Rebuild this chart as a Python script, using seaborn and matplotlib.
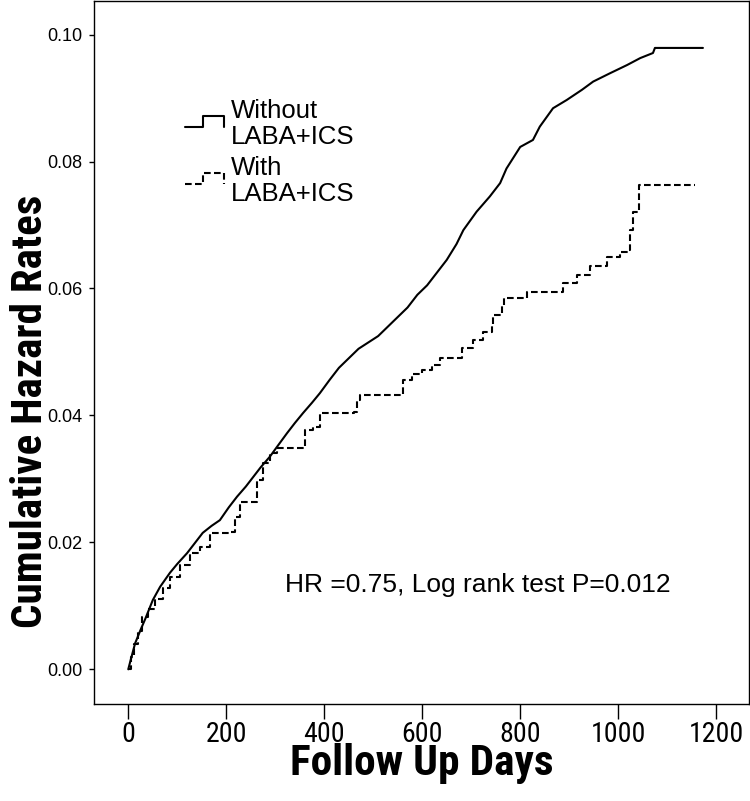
import os
import numpy as np
import pandas as pd
import matplotlib
matplotlib.use("Agg")
import matplotlib.pyplot as plt
import seaborn as sns
from matplotlib import font_manager
from matplotlib.font_manager import FontProperties
from matplotlib.lines import Line2D
from matplotlib.legend_handler import HandlerBase

# ---------------- data ----------------
days_without = [0, 5, 14, 25, 35, 50, 65, 85, 100, 120, 135, 152, 170, 187, 205, 222,
                240, 255, 270, 289, 305, 324, 340, 357, 375, 391, 411, 430, 450, 470,
                490, 510, 530, 550, 570, 590, 610, 630, 650, 670, 684, 711, 738, 759,
                772, 800, 826, 840, 867, 895, 926, 949, 983, 1018, 1045, 1071, 1075, 1173]
rate_without = [0.0, 0.0015, 0.0041, 0.0062, 0.0080, 0.0109, 0.0130, 0.0152, 0.0166, 0.0183,
                0.0198, 0.0215, 0.0226, 0.0235, 0.0255, 0.0272, 0.0288, 0.0303, 0.0318, 0.0335,
                0.0352, 0.0372, 0.0388, 0.0404, 0.0420, 0.0435, 0.0456, 0.0475, 0.0490, 0.0505,
                0.0515, 0.0525, 0.0540, 0.0555, 0.0570, 0.0590, 0.0605, 0.0625, 0.0645, 0.0670,
                0.0692, 0.0721, 0.0745, 0.0766, 0.0789, 0.0823, 0.0834, 0.0855, 0.0884, 0.0897,
                0.0913, 0.0926, 0.0939, 0.0952, 0.0963, 0.0971, 0.0979, 0.0979]

days_with = [0, 5, 12, 20, 27, 40, 55, 70, 85, 105, 126, 146, 167, 208, 218, 228, 255, 262,
             275, 289, 303, 357, 361, 377, 391, 460, 466, 473, 561, 580, 600, 620, 636, 681,
             704, 725, 742, 745, 762, 766, 810, 813, 885, 888, 912, 915, 939, 943, 973, 977,
             1004, 1020, 1024, 1030, 1039, 1043, 1157]
rate_with = [0.0, 0.0020, 0.0040, 0.0060, 0.0083, 0.0095, 0.0110, 0.0128, 0.0146, 0.0165,
             0.0183, 0.0193, 0.0214, 0.0217, 0.0240, 0.0264, 0.0264, 0.0298, 0.0325, 0.0341,
             0.0348, 0.0348, 0.0377, 0.0382, 0.0404, 0.0406, 0.0424, 0.0432, 0.0456, 0.0465,
             0.0472, 0.0480, 0.0490, 0.0506, 0.0519, 0.0532, 0.0543, 0.0558, 0.0574, 0.0585,
             0.0585, 0.0595, 0.0595, 0.0608, 0.0608, 0.0621, 0.0621, 0.0636, 0.0636, 0.0650,
             0.0658, 0.0660, 0.0692, 0.0721, 0.0721, 0.0763, 0.0763]

groups = ["Without\nLABA+ICS", "With\nLABA+ICS"]
x_ticks = [0, 200, 400, 600, 800, 1000, 1200]
y_ticks = [0.00, 0.02, 0.04, 0.06, 0.08, 0.10]
x_label = "Follow Up Days"
y_label = "Cumulative Hazard Rates"
note = "HR =0.75, Log rank test P=0.012"

# ---------------- fonts ----------------
def has_font(name):
    try:
        font_manager.findfont(FontProperties(family=name), fallback_to_default=False)
        return True
    except Exception:
        return False

REG = "Liberation Sans" if has_font("Liberation Sans") else "DejaVu Sans"

PREFS = ["Liberation Sans Narrow", "Arial Narrow", "Roboto Condensed", "Roboto",
         "Open Sans Condensed", "Open Sans", "Noto Sans", "DejaVu Sans"]


def is_condensed(f):
    base = os.path.basename(f.fname).lower()
    return ("narrow" in f.name.lower() or "condensed" in f.name.lower()
            or "condensed" in base or "narrow" in base
            or str(f.stretch) in ("condensed", "semi-condensed", "extra-condensed",
                                  "ultra-condensed"))


def wnum(w):
    if isinstance(w, (int, float)):
        return w
    return font_manager.weight_dict.get(str(w), 400)


def pick_condensed(bold):
    cands = [f for f in font_manager.fontManager.ttflist
             if is_condensed(f) and f.style == "normal"]
    best, best_score = None, None
    for f in cands:
        pr = len(PREFS)
        for i, p in enumerate(PREFS):
            if f.name.startswith(p):
                pr = i
                break
        wscore = abs(wnum(f.weight) - (700 if bold else 400))
        base = os.path.basename(f.fname).lower()
        semi = 1 if "semi" in base or "semi" in str(f.stretch) else 0
        score = (pr, wscore, semi)
        if best_score is None or score < best_score:
            best, best_score = f, score
    return best


cb = pick_condensed(True)
cr = pick_condensed(False)
LABEL_FP = FontProperties(fname=cb.fname) if cb else FontProperties(family=REG, weight="bold")
TICK_FP = FontProperties(fname=cr.fname) if cr else FontProperties(family=REG)

sns.set_style("white")
plt.rcParams["font.family"] = [REG, "DejaVu Sans"]
for k in ["text.color", "axes.labelcolor", "xtick.color", "ytick.color", "axes.edgecolor"]:
    plt.rcParams[k] = "black"

fig = plt.figure(figsize=(7.5, 8.01), dpi=100)
ax = fig.add_axes([0.1257, 0.1217, 0.998 - 0.1257, 0.9988 - 0.1217])

LW = 1.5
DASH = (3.2, 1.6)
df_without = pd.DataFrame({"day": days_without, "rate": rate_without})
df_with = pd.DataFrame({"day": days_with, "rate": rate_with})
sns.lineplot(data=df_without, x="day", y="rate", color="black", lw=LW,
             estimator=None, ax=ax)
sns.lineplot(data=df_with, x="day", y="rate", color="black", lw=LW, dashes=False,
             linestyle=(0, DASH), drawstyle="steps-post", estimator=None, ax=ax)

ax.set_xlim(-69.4, 1266)
ax.set_ylim(-0.00539, 0.1053)
ax.set_xticks(x_ticks)
ax.set_yticks(y_ticks)
ax.set_yticklabels([f"{v:.2f}" for v in y_ticks])

for s in ax.spines.values():
    s.set_visible(True)
    s.set_color("black")
    s.set_linewidth(1.0)

ax.tick_params(axis="x", direction="out", length=10.8, width=1.0, pad=2,
               colors="black", bottom=True)
ax.tick_params(axis="y", direction="out", length=3.6, width=1.0, pad=5,
               colors="black", left=True)
for t in ax.get_xticklabels():
    t.set_fontproperties(TICK_FP)
    t.set_fontsize(20)
for t in ax.get_yticklabels():
    t.set_fontfamily(REG)
    t.set_fontsize(13)

ax.set_xlabel(x_label, fontproperties=LABEL_FP, fontsize=31)
ax.set_ylabel(y_label, fontproperties=LABEL_FP, fontsize=31)
ax.xaxis.label.set_va("baseline")
ax.yaxis.label.set_va("baseline")
ax.xaxis.set_label_coords(0.5, -0.1018)
ax.yaxis.set_label_coords(-0.0800, 0.4157)

ax.text(0.2915, 0.1583, note, transform=ax.transAxes, fontsize=19,
        family=REG, va="baseline", ha="left")


class StepHandler(HandlerBase):
    def create_artists(self, legend, orig_handle, xdescent, ydescent, width,
                       height, fontsize, trans):
        x0, y0 = -xdescent, -ydescent
        xm = x0 + 0.46 * width
        lo, hi = y0 + 0.36 * height, y0 + 1.0 * height
        line = Line2D([x0, xm, xm, x0 + width, x0 + width], [lo, lo, hi, hi, lo])
        line.update_from(orig_handle)
        line.set_transform(trans)
        return [line]


handles = [Line2D([], [], color="black", lw=LW, linestyle="-"),
           Line2D([], [], color="black", lw=LW, linestyle=(0, DASH))]
leg = ax.legend(handles, groups, loc="upper left", bbox_to_anchor=(0.1386, 0.8605),
                frameon=False, borderaxespad=0, borderpad=0, fontsize=18.5,
                handlelength=1.52, handleheight=0.7, handletextpad=0.27,
                labelspacing=0.27, handler_map={Line2D: StepHandler()})
for t in leg.get_texts():
    t.set_linespacing(1.12)
    t.set_fontfamily(REG)

# fit label / tick text extents to the reference picture
fig.canvas.draw()
r = fig.canvas.get_renderer()
yl = ax.yaxis.label.get_window_extent(r)
ax.yaxis.label.set_fontsize(31 * 433.0 / yl.height)
xl = ax.xaxis.label.get_window_extent(r)
ax.xaxis.label.set_fontsize(31 * 263.0 / xl.width)
w1200 = ax.get_xticklabels()[-1].get_window_extent(r).width
for t in ax.get_xticklabels():
    t.set_fontsize(20 * 55.0 / w1200)

fig.savefig("out.png", dpi=100)
